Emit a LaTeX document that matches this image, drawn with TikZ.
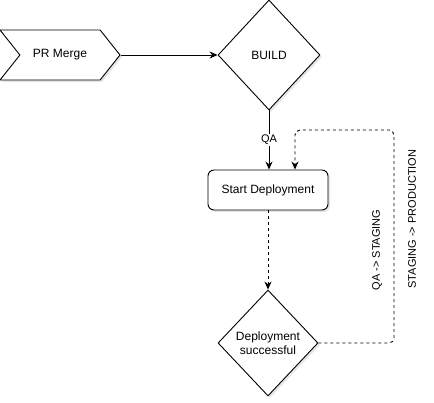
\documentclass[tikz,border=0pt]{standalone}
\usepackage{fontspec}
\setmainfont{Liberation Sans}
\usetikzlibrary{shapes.geometric,shapes.symbols,shadows,arrows.meta}
\tikzset{every node/.style={font=\fontsize{12}{14}\selectfont},
  shape box/.style={draw, fill=white, line width=0.9pt, inner sep=0pt,
    drop shadow={shadow xshift=2pt, shadow yshift=-2pt, opacity=0.2, fill=gray}},
  flow/.style={line width=0.9pt, -{Stealth[length=8pt,width=7pt]}}}

\begin{document}
\begin{tikzpicture}[x=1pt,y=-1pt]
  \useasboundingbox (0,0) rectangle (434,402);
  % shapes
  \node[shape box, signal, signal from=west, signal to=east, signal pointer angle=103,
        minimum width=120pt, minimum height=50pt] (merge) at (60,55) {PR Merge};
  \node[shape box, diamond, minimum width=102pt, minimum height=110pt] (build) at (269,55) {BUILD};
  \node[shape box, rounded corners=6pt, minimum width=120pt, minimum height=40pt] (start) at (268,190) {Start Deployment};
  \node[shape box, diamond, minimum width=100pt, minimum height=106pt, align=center] (success) at (268,343)
    {Deployment\\successful};
  % connectors
  \draw[flow] (merge.east) -- (build.west);
  \draw[flow] (build.south) -- node[fill=white, inner sep=1pt, font=\fontsize{11}{13}\selectfont] (qa) {QA} (start.north -| build.south);
  \draw[flow, dashed] (start.south) -- (success.north);
  \coordinate (loop) at (394,130);
  \draw[flow, dashed, rounded corners=5pt] (success.east) -| (loop) -| ([xshift=27pt]start.north);
  % labels
  \node[rotate=90, font=\fontsize{11}{13}\selectfont] (toStaging) at (377,250) {QA -> STAGING};
  \node[rotate=90, font=\fontsize{11}{13}\selectfont] (toProd) at (412,219) {STAGING -> PRODUCTION};
\end{tikzpicture}
\end{document}
